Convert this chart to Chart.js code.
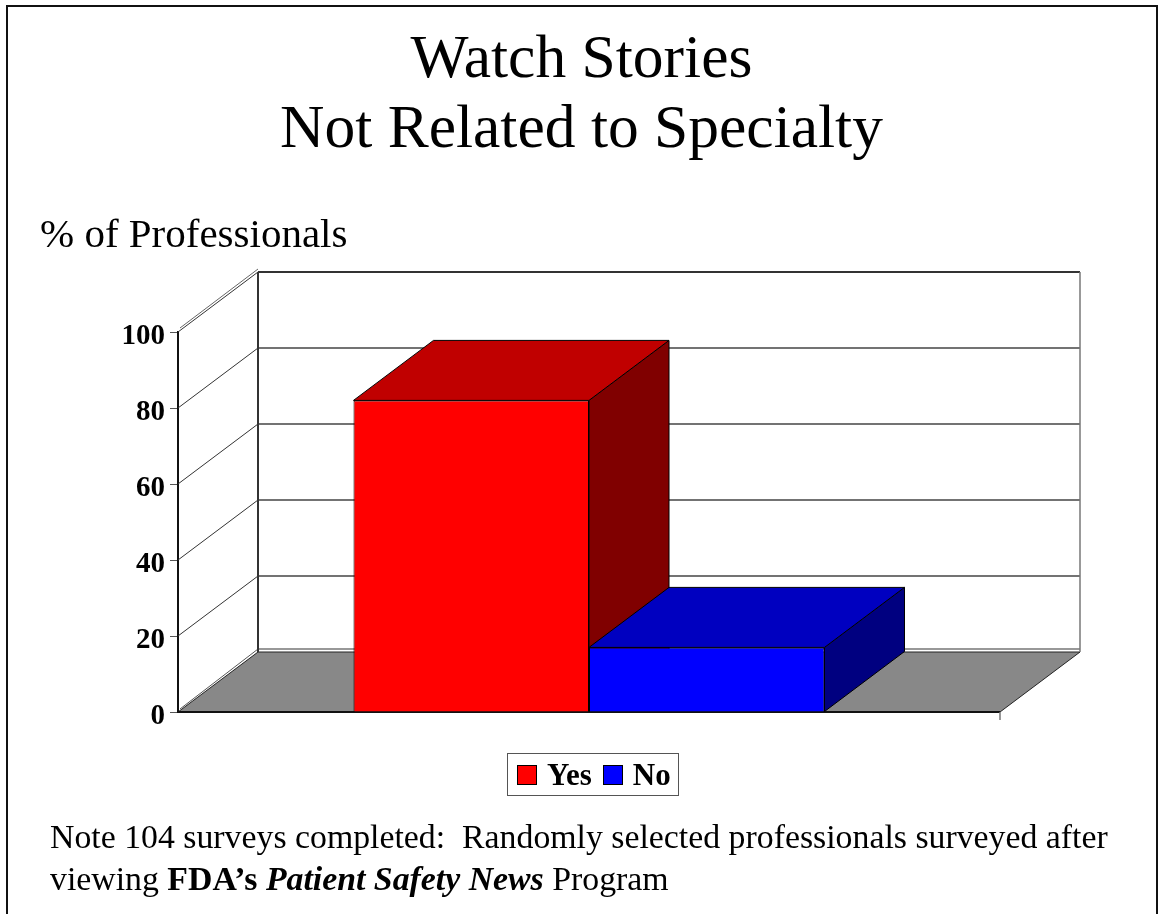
<!DOCTYPE html>
<html>
<head>
<meta charset="utf-8">
<script src="https://cdn.jsdelivr.net/npm/chart.js@4.4.0/dist/chart.umd.min.js"></script>
<style>
  html, body { margin: 0; padding: 0; background: #fff; overflow: hidden; }
  body { width: 1163px; height: 914px; position: relative; font-family: 'Liberation Serif', 'Times New Roman', serif; color: #000; }
  #frame { position: absolute; left: 6px; top: 5px; width: 1148px; height: 1000px; border: 2px solid #111; box-sizing: content-box; }
  #chart { position: absolute; left: 0; top: 0; }
  .title { position: absolute; left: 0; width: 1163px; top: 21px; text-align: center; font-size: 61.5px; line-height: 70px; }
  .ylabel { position: absolute; left: 40px; top: 213px; font-size: 41px; line-height: 41px; white-space: nowrap; }
  .note { position: absolute; left: 50px; top: 816px; font-size: 33.8px; line-height: 42px; white-space: nowrap; }
  #legend { position: absolute; left: 507px; top: 753px; height: 41px; border: 1px solid #555; display: flex; align-items: center; padding: 0 7px 0 9px; font-weight: bold; font-size: 31px; }
  #legend .item { display: flex; align-items: center; margin-right: 11px; }
  #legend .item:last-child { margin-right: 0; }
  #legend .box { width: 18px; height: 18px; border: 1px solid #000; margin-right: 10px; }
</style>
</head>
<body>
<div id="frame"></div>
<canvas id="chart" width="1163" height="914"></canvas>
<div class="title">Watch Stories<br>Not Related to Specialty</div>
<div class="ylabel">% of Professionals</div>
<div id="legend"></div>
<div class="note">Note 104 surveys completed:&nbsp; Randomly selected professionals surveyed after<br>viewing <b>FDA’s <i>Patient Safety News</i></b> Program</div>
<script>
const categories = ['']
const seriesNames = ['Yes', 'No']
const yesValues = [82]
const noValues = [17]
const yTicks = [0, 20, 40, 60, 80, 100]

// depth of the 3D look, in pixels
const DX = 80
const DY = -60

const poly = (ctx, pts, fill, stroke) => {
  ctx.beginPath()
  ctx.moveTo(pts[0][0], pts[0][1])
  pts.slice(1).forEach((p) => ctx.lineTo(p[0], p[1]))
  ctx.closePath()
  if (fill) {
    ctx.fillStyle = fill
    ctx.fill()
  }
  if (stroke) {
    ctx.strokeStyle = stroke
    ctx.lineWidth = 1
    ctx.stroke()
  }
}

const line = (ctx, x1, y1, x2, y2, color, w) => {
  ctx.beginPath()
  ctx.moveTo(x1, y1)
  ctx.lineTo(x2, y2)
  ctx.strokeStyle = color
  ctx.lineWidth = w
  ctx.stroke()
}

const box3d = {
  id: 'box3d',
  beforeDatasetsDraw(chart) {
    const { ctx, chartArea } = chart
    const { left, right, top, bottom } = chartArea
    const y = chart.scales.y
    ctx.save()

    // floor
    poly(ctx, [[left, bottom], [right, bottom], [right + DX, bottom + DY], [left + DX, bottom + DY]], '#888888', '#222')

    // back wall and side wall grid lines
    yTicks.forEach((v) => {
      const py = y.getPixelForValue(v)
      if (v === 0) {
        line(ctx, left + DX, py + DY - 3, right + DX, py + DY - 3, '#333', 1.2)
        line(ctx, left + 2, py - 3, left + DX, py + DY - 3, '#555', 1)
      } else {
        line(ctx, left + DX, py + DY, right + DX, py + DY, '#444', 1.3)
        line(ctx, left, py, left + DX, py + DY, '#333', 1)
      }
    })
    line(ctx, left + 2, top - 4, left + DX, top + DY - 3, '#666', 1)
    line(ctx, left + DX, top + DY, right + DX, top + DY, '#333', 2)
    line(ctx, left + DX, top + DY, left + DX, bottom + DY, '#333', 2)
    line(ctx, right + DX, top + DY, right + DX, bottom + DY, '#777', 1.5)

    // front floor edge
    line(ctx, left, bottom, right, bottom, '#111', 2)
    line(ctx, right, bottom, right, bottom + 8, '#777', 1.5)

    // top and side faces of the bars, front faces come from Chart.js
    chart.data.datasets.forEach((ds, i) => {
      const meta = chart.getDatasetMeta(i)
      meta.data.forEach((bar) => {
        const l = bar.x - bar.width / 2
        const r = bar.x + bar.width / 2
        const t = bar.y
        const b = bar.base
        poly(ctx, [[r, t], [r + DX, t + DY], [r + DX, b + DY], [r, b]], ds.sideColor, '#000')
        poly(ctx, [[l, t], [l + DX, t + DY], [r + DX, t + DY], [r, t]], ds.topColor, '#000')
      })
    })
    ctx.restore()
  },
}

const ctx = document.getElementById('chart').getContext('2d')
const chart = new Chart(ctx, {
  type: 'bar',
  data: {
    labels: categories,
    datasets: [
      {
        label: seriesNames[0],
        data: yesValues,
        backgroundColor: '#ff0000',
        topColor: '#c00000',
        sideColor: '#800000',
        borderColor: '#000',
        borderWidth: 1,
      },
      {
        label: seriesNames[1],
        data: noValues,
        backgroundColor: '#0000ff',
        topColor: '#0000c0',
        sideColor: '#000080',
        borderColor: '#000',
        borderWidth: 1,
      },
    ],
  },
  options: {
    responsive: false,
    animation: false,
    devicePixelRatio: 1,
    categoryPercentage: 0.573,
    barPercentage: 1,
    layout: { padding: { left: 100, top: 332, right: 163, bottom: 202 } },
    plugins: { legend: { display: false }, tooltip: { enabled: false } },
    scales: {
      x: { display: false },
      y: {
        min: 0,
        max: 100,
        afterFit: (scale) => { scale.width = 78 },
        afterBuildTicks: (scale) => { scale.ticks = yTicks.map((v) => ({ value: v })) },
        grid: { drawOnChartArea: false, drawTicks: true, tickLength: 8, color: '#555' },
        border: { display: true, color: '#111', width: 2 },
        ticks: {
          padding: 5,
          labelOffset: 5,
          color: '#000',
          font: { family: "'Liberation Serif', 'Times New Roman', serif", size: 29, weight: 'bold' },
        },
      },
    },
  },
  plugins: [box3d],
})

// legend box built from the datasets
const legend = document.getElementById('legend')
chart.data.datasets.forEach((ds) => {
  const item = document.createElement('div')
  item.className = 'item'
  item.innerHTML = `<span class="box" style="background:${ds.backgroundColor}"></span><span>${ds.label}</span>`
  legend.appendChild(item)
})
</script>
</body>
</html>
